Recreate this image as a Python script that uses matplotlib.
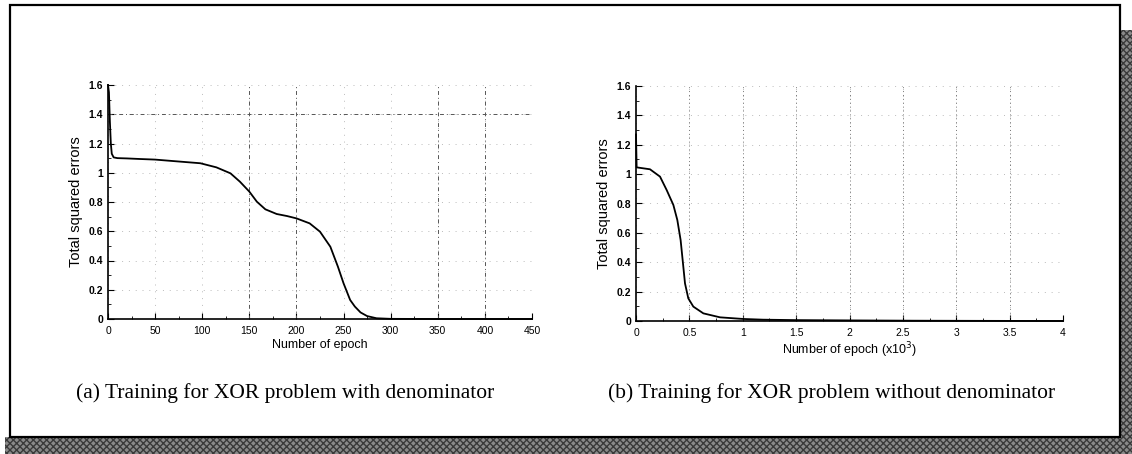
import matplotlib.pyplot as plt
from matplotlib.patches import Rectangle
import numpy as np

# training curve with denominator (epochs, total squared error)
epoch_a = [0, 1, 2, 3, 4, 6, 10, 20, 34, 50, 69, 98, 115, 130, 140, 150, 158, 167,
           179, 190, 200, 214, 225, 236, 244, 250, 257, 262, 268, 275, 285, 300, 350, 450]
error_a = [1.6, 1.55, 1.35, 1.2, 1.13, 1.105, 1.1, 1.098, 1.094, 1.09, 1.08, 1.065,
           1.037, 0.996, 0.939, 0.871, 0.802, 0.75, 0.718, 0.704, 0.688, 0.654, 0.597,
           0.494, 0.358, 0.244, 0.13, 0.085, 0.045, 0.02, 0.005, 0.001, 0.0, 0.0]

# training curve without denominator (epochs x10^3)
epoch_b = [0, 0.006, 0.131, 0.225, 0.287, 0.35, 0.387, 0.418, 0.437, 0.459, 0.49,
           0.537, 0.631, 0.787, 1.0, 1.19, 1.5, 2.0, 2.6, 3.2, 4.0]
error_b = [1.27, 1.046, 1.033, 0.983, 0.892, 0.79, 0.688, 0.551, 0.415, 0.256, 0.154,
           0.098, 0.052, 0.025, 0.014, 0.009, 0.006, 0.004, 0.002, 0.001, 0.0]

xticks_a = [0, 50, 100, 150, 200, 250, 300, 350, 400, 450]
xticks_b = [0, 0.5, 1, 1.5, 2, 2.5, 3, 3.5, 4]
xticklabels_b = ['0', '0.5', '1', '1.5', '2', '2.5', '3', '3.5', '4']
yticks = [0, 0.2, 0.4, 0.6, 0.8, 1.0, 1.2, 1.4, 1.6]
yticklabels = ['0', '0.2', '0.4', '0.6', '0.8', '1', '1.2', '1.4', '1.6']

# heavier dash-dot grid lines
vlines_a = [150, 200, 350, 400]
hlines_a = [1.4]
vlines_b = [0.5, 1, 1.5, 2, 2.5, 3, 3.5]

caption_a = '(a) Training for XOR problem with denominator'
caption_b = '(b) Training for XOR problem without denominator'

narrow = ['Liberation Sans Narrow', 'Liberation Sans', 'DejaVu Sans']
sans = ['Liberation Sans', 'DejaVu Sans']
serif = ['Liberation Serif', 'DejaVu Serif']

fig = plt.figure(figsize=(11.32, 4.54), dpi=100)

# drop shadow and frame
shadow_kw = dict(transform=fig.transFigure, facecolor='#8a8a8a', edgecolor='#3a3a3a',
                 hatch='xxxxx', linewidth=0, zorder=0)
fig.add_artist(Rectangle((1120 / 1132, 0), 12 / 1132, 1 - 30 / 454, **shadow_kw))
fig.add_artist(Rectangle((5 / 1132, 0), 1127 / 1132, 17 / 454, **shadow_kw))
fig.add_artist(Rectangle((10 / 1132, 1 - 437 / 454), 1110 / 1132, 432 / 454,
                         transform=fig.transFigure, facecolor='white',
                         edgecolor='black', linewidth=1.6, zorder=1))


def setup(ax, xticks, xlim, xminor, xlabel, xticklabels=None):
    ax.set_zorder(3)
    ax.set_xlim(*xlim)
    ax.set_ylim(0, 1.6)
    ax.set_xticks(xticks)
    if xticklabels is not None:
        ax.set_xticklabels(xticklabels)
    ax.set_xticks(xminor, minor=True)
    ax.set_yticks(yticks)
    ax.set_yticklabels(yticklabels)
    ax.set_yticks(np.arange(0.1, 1.6, 0.2), minor=True)
    ax.tick_params(direction='in', length=4, width=0.8, labelsize=7.5)
    ax.tick_params(axis='x', pad=5)
    ax.tick_params(which='minor', direction='in', length=2.5, width=0.6)
    for lbl in ax.get_xticklabels():
        lbl.set_family(narrow)
    for lbl in ax.get_yticklabels():
        lbl.set_family(sans)
        lbl.set_fontweight('bold')
    ax.spines['top'].set_visible(False)
    ax.spines['right'].set_visible(False)
    ax.spines['left'].set_linewidth(1.2)
    ax.spines['bottom'].set_linewidth(1.2)
    ax.grid(True, color='#bbbbbb', linestyle=(0, (1, 6)), linewidth=0.7)
    ax.set_xlabel(xlabel, family=narrow, fontsize=9, labelpad=2)
    ax.set_ylabel('Total squared errors', family=sans, fontsize=10.5, labelpad=4)
    ax.patch.set_alpha(0)


ax1 = fig.add_axes([108 / 1132, 1 - 319 / 454, 424 / 1132, 234 / 454])
setup(ax1, xticks_a, (0, 450), np.arange(25, 450, 50), 'Number of epoch')
for v in vlines_a:
    ax1.axvline(v, color='#555555', linestyle=(0, (4, 3, 1, 3)), linewidth=0.7)
for h in hlines_a:
    ax1.axhline(h, color='#555555', linestyle=(0, (4, 3, 1, 3)), linewidth=0.7)
ax1.plot(epoch_a, error_a, color='black', linewidth=1.3, clip_on=False)

ax2 = fig.add_axes([636 / 1132, 1 - 321 / 454, 427 / 1132, 235 / 454])
setup(ax2, xticks_b, (0, 4), np.arange(0.25, 4, 0.5),
      r'Number of epoch (x10$^3$)', xticklabels_b)
for v in vlines_b:
    ax2.axvline(v, color='#777777', linestyle=(0, (1, 3)), linewidth=0.7)
ax2.plot(epoch_b, error_b, color='black', linewidth=1.3, clip_on=False)

fig.text(285 / 1132, 1 - 393 / 454, caption_a, family=serif, fontsize=15.5,
         ha='center', va='center', zorder=3)
fig.text(832 / 1132, 1 - 393 / 454, caption_b, family=serif, fontsize=15.5,
         ha='center', va='center', zorder=3)

fig.savefig('out.png', dpi=100)
